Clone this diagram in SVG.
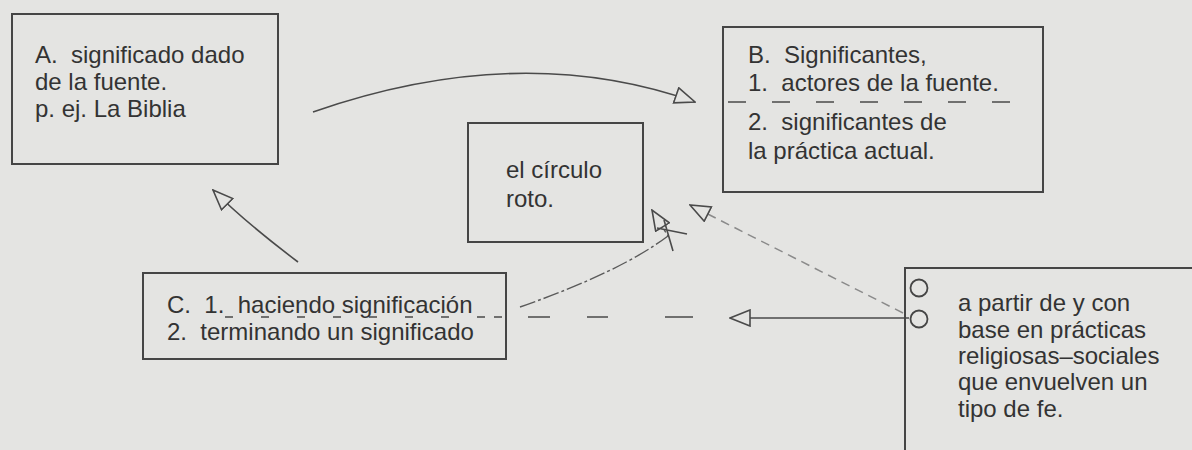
<svg xmlns="http://www.w3.org/2000/svg" width="1192" height="450" viewBox="0 0 1192 450">
<defs>
<style>
.bg{fill:#e4e4e2}
.box{fill:none;stroke:#454545;stroke-width:2}
.t{font-family:"Liberation Sans",Arial,sans-serif;font-size:24px;fill:#333333}
.ln{fill:none;stroke:#4a4a4a;stroke-width:1.6}
.dd{fill:none;stroke:#5a5a5a;stroke-width:1.4;stroke-dasharray:16 3 3 3}
.faint{fill:none;stroke:#8a8a8a;stroke-width:1.5;stroke-dasharray:9 6}
</style>
<marker id="tri" viewBox="0 0 22 18" refX="21" refY="9" markerWidth="22" markerHeight="18" markerUnits="userSpaceOnUse" orient="auto">
<path d="M1,1 L21,9 L1,17 Z" fill="#e4e4e2" stroke="#4a4a4a" stroke-width="1.6"/>
</marker>
</defs>
<rect class="bg" x="0" y="0" width="1192" height="450"/>

<g id="connectors">
<path class="ln" d="M313,112 Q520,40 695,102" marker-end="url(#tri)"/>
<path class="ln" d="M298,262 Q245,222 213,190" marker-end="url(#tri)"/>
<path class="dd" d="M520,307 Q620,272 668,236 L652,210" marker-end="url(#tri)"/>
<path class="ln" d="M657,228 L687,234 M664,220 L673,251"/>
<path class="faint" d="M903,313 L690,205" marker-end="url(#tri)"/>
<path class="ln" d="M909,318 L730,318" marker-end="url(#tri)"/>
<path class="ln" d="M225,317 L505,317" stroke-dasharray="8 28"/>
<path class="ln" d="M494,317 h8 M528,317 h22 M587,317 h21 M665,317 h28"/>
</g>

<g id="nodeA">
<rect class="box" x="12" y="14" width="266" height="150"/>
<text class="t" x="35" y="63" xml:space="preserve">A.  significado dado</text>
<text class="t" x="35" y="90">de la fuente.</text>
<text class="t" x="35" y="117">p. ej. La Biblia</text>
</g>

<g id="nodeB">
<rect class="box" x="723" y="27" width="320" height="165"/>
<path class="ln" d="M728,102 L1030,102" stroke-dasharray="18 26"/>
<text class="t" x="748" y="63" xml:space="preserve">B.  Significantes,</text>
<text class="t" x="748" y="91" xml:space="preserve">1.  actores de la fuente.</text>
<text class="t" x="748" y="130" xml:space="preserve">2.  significantes de</text>
<text class="t" x="748" y="159">la práctica actual.</text>
</g>

<g id="nodeRoto">
<rect class="box" x="468" y="123" width="175" height="119"/>
<text class="t" x="506" y="178">el círculo</text>
<text class="t" x="506" y="207">roto.</text>
</g>

<g id="nodeC">
<rect class="box" x="143" y="273" width="363" height="86"/>
<text class="t" x="167" y="313" xml:space="preserve">C.  1.  haciendo significación</text>
<text class="t" x="167" y="340" xml:space="preserve">2.  terminando un significado</text>
</g>

<g id="nodeD">
<path class="box" d="M905,450 L905,268 L1192,268"/>
<circle cx="919" cy="288" r="8.5" fill="#e4e4e2" stroke="#454545" stroke-width="1.8"/>
<circle cx="919" cy="319" r="8.5" fill="#e4e4e2" stroke="#454545" stroke-width="1.8"/>
<text class="t" x="958" y="311">a partir de y con</text>
<text class="t" x="958" y="338">base en prácticas</text>
<text class="t" x="958" y="364">religiosas–sociales</text>
<text class="t" x="958" y="390">que envuelven un</text>
<text class="t" x="958" y="417">tipo de fe.</text>
</g>
</svg>
